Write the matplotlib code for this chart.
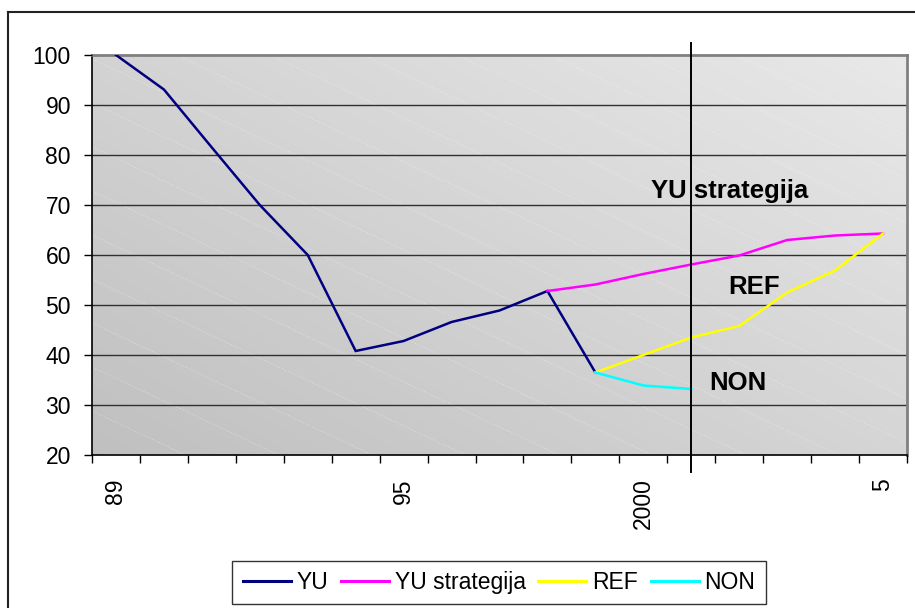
import numpy as np
import matplotlib
matplotlib.use("Agg")
import matplotlib.pyplot as plt
from matplotlib.lines import Line2D

plt.rcParams['font.family'] = ['Liberation Sans', 'DejaVu Sans']

# ---- data ----
years = list(range(1989, 2006))
tick_years = [1989, 1995, 2000, 2005]
tick_labels = ['89', '95', '2000', '5']

yu_years = list(range(1989, 2000))
yu_vals = [100, 93.1, 81.5, 70, 60, 40.8, 42.8, 46.6, 48.9, 52.8, 36.5]

strat_years = list(range(1998, 2006))
strat_vals = [52.8, 54.1, 56.2, 58.1, 59.9, 63.0, 63.9, 64.3]

ref_years = list(range(1999, 2006))
ref_vals = [36.5, 40.0, 43.5, 45.8, 52.5, 56.9, 64.3]

non_years = [1999, 2000, 2001]
non_vals = [36.5, 33.9, 33.2]

marker_year = 2001

series = [
    ("YU", yu_years, yu_vals, "#000080"),
    ("YU strategija", strat_years, strat_vals, "#FF00FF"),
    ("REF", ref_years, ref_vals, "#FFFF00"),
    ("NON", non_years, non_vals, "#00FFFF"),
]

def idx(ys):
    return [years.index(y) for y in ys]

# ---- figure ----
W, H = 915, 608
fig = plt.figure(figsize=(W / 100, H / 100), dpi=100)
fig.patch.set_facecolor("white")

# outer chart border (top and left visible)
fig.add_artist(Line2D([8 / W, 8 / W], [0, 1 - 12 / H], transform=fig.transFigure,
                      color="#222222", lw=1.5))
fig.add_artist(Line2D([8 / W, 1], [1 - 12 / H, 1 - 12 / H], transform=fig.transFigure,
                      color="#222222", lw=1.5))

left, right, top, bottom = 92, 907, 55, 455
ax = fig.add_axes([left / W, 1 - bottom / H, (right - left) / W, (bottom - top) / H])

# gradient background
nx, ny = 200, 100
gx = np.linspace(0, 1, nx)[None, :]
gy = np.linspace(0, 1, ny)[:, None]
grad = 0.752 + 0.085 * gx + 0.075 * gy
grad = np.clip(grad, 0, 1)
img = np.dstack([grad, grad, grad])
ax.imshow(img, extent=[0, 1, 0, 1], transform=ax.transAxes, origin="lower",
          aspect="auto", zorder=0, interpolation="bilinear")

# faint diagonal stripes
for c in np.arange(0.0, 2.2, 0.11):
    ax.plot([0, 1], [c, c - 0.96], transform=ax.transAxes, color="white",
            lw=0.6, alpha=0.35, ls=(0, (2, 2)), zorder=1)

ax.set_xlim(-0.5, len(years) - 0.5)
ax.set_ylim(20, 100)

# gridlines
for yv in range(30, 100, 10):
    ax.axhline(yv, color="#303030", lw=1.0, zorder=2)

# series
for name, ys, vals, col in series:
    ax.plot(idx(ys), vals, color=col, lw=1.8, label=name, zorder=4,
            solid_joinstyle="miter")

# vertical marker line
xm = years.index(marker_year)
ax.plot([xm, xm], [1.03, -0.042], transform=ax.get_xaxis_transform(),
        color="black", lw=1.4, clip_on=False, zorder=5)

# annotations
ax.text(11.15, 71.4, "YU strategija", fontsize=18.5, fontweight="bold",
        ha="left", va="baseline", zorder=6)
ax.text(12.77, 52.3, "REF", fontsize=18.5, fontweight="bold",
        ha="left", va="baseline", zorder=6)
ax.text(12.375, 33.0, "NON", fontsize=18.5, fontweight="bold",
        ha="left", va="baseline", zorder=6)

# spines
ax.spines["top"].set_color("#808080")
ax.spines["top"].set_linewidth(2)
ax.spines["right"].set_color("#808080")
ax.spines["right"].set_linewidth(2)
ax.spines["left"].set_color("black")
ax.spines["left"].set_linewidth(1.2)
ax.spines["bottom"].set_color("black")
ax.spines["bottom"].set_linewidth(1.2)
ax.set_axisbelow(False)

# ticks
ax.set_yticks(range(20, 101, 10))
ax.tick_params(axis="y", direction="out", length=5.8, width=1, pad=9.4,
               labelsize=16.5, colors="black")
ax.set_xticks([years.index(y) for y in tick_years])
ax.set_xticklabels(tick_labels, rotation=90, va="top", ha="center")
ax.set_xticks(np.arange(-0.5, len(years), 1.0), minor=True)
ax.tick_params(axis="x", which="major", length=0, pad=17, labelsize=16.5)
ax.tick_params(axis="x", which="minor", direction="out", length=5.8, width=1)

# legend
handles = [Line2D([0], [0], color=col, lw=2.2) for _, _, _, col in series]
labels = [s[0] for s in series]
leg = fig.legend(handles, labels, loc="center",
                 bbox_to_anchor=(499 / W, 1 - 582.5 / H), ncol=4,
                 fontsize=16.5, frameon=True, fancybox=False, edgecolor="black",
                 handlelength=2.1, handletextpad=0.25, columnspacing=0.55,
                 borderpad=0.45, borderaxespad=0)
leg.get_frame().set_linewidth(1.0)

fig.savefig("out.png", dpi=100)
